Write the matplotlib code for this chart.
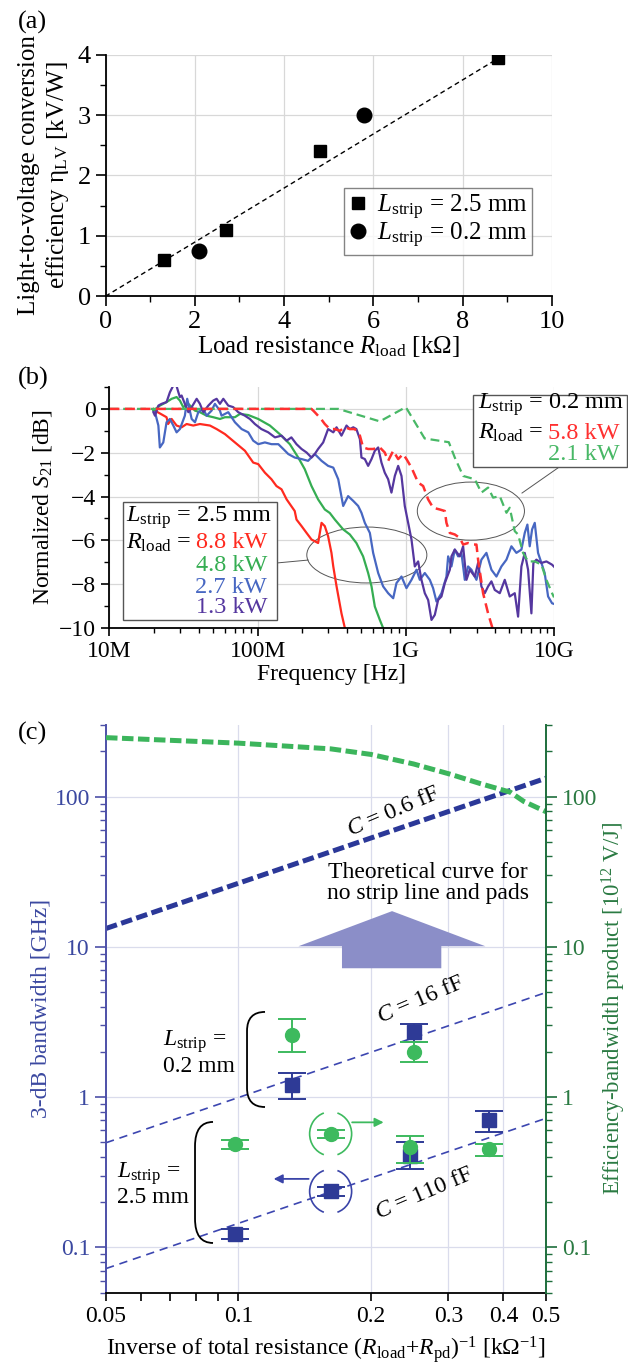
import numpy as np
import matplotlib
matplotlib.use("Agg")
import matplotlib.pyplot as plt
from matplotlib import ticker, transforms
from matplotlib.patches import Ellipse, Rectangle, Polygon, Arc, PathPatch
from matplotlib.path import Path

plt.rcParams['font.family'] = ['Liberation Serif', 'DejaVu Serif']
plt.rcParams['mathtext.fontset'] = 'custom'
plt.rcParams['mathtext.rm'] = 'Liberation Serif'
plt.rcParams['mathtext.it'] = 'Liberation Serif:italic'
plt.rcParams['mathtext.bf'] = 'Liberation Serif:bold'
plt.rcParams['axes.unicode_minus'] = True

# ---- (a) light-to-voltage efficiency vs load resistance ----
rload_25 = [1.3, 2.7, 4.8, 8.8]
eta_25 = [0.6, 1.1, 2.4, 3.95]
rload_02 = [2.1, 5.8]
eta_02 = [0.75, 3.0]
fit_r = [0, 8.8]
fit_eta = [0, 3.94]

# ---- (b) normalized S21, frequency in MHz ----
r88_f = [19.8, 20.3, 24.3, 24.9, 26.3, 28.4, 30.7, 33.2, 36.8, 40.8, 47.7, 52.9, 60.2, 70.3, 82.1, 93.4,
         101, 112, 124, 134, 145, 157, 178, 183, 198, 214, 231, 256, 270, 284, 299, 315, 324, 341, 368, 388, 400]
r88_db = [0, -0.08, -0.38, -0.69, -0.46, -0.76, -0.84, -0.69, -0.76, -0.69, -0.76, -0.92, -1.15, -1.53, -1.91,
          -2.45, -2.52, -2.91, -3.21, -3.52, -3.67, -4.13, -4.66, -5.05, -5.35, -5.66, -5.96, -6.12, -5.2, -5.35,
          -5.81, -6.57, -7.19, -8.10, -9.33, -10.0, -10.4]

g48_f = [19.8, 21.9, 24.3, 26.3, 28.4, 29.9, 31.5, 34.1, 37.8, 40.8, 45.3, 50.2, 55.7, 60.2, 70.3, 76.0, 86.5,
         101, 121, 141, 165, 188, 208, 231, 256, 284, 307, 332, 378, 419, 464, 515, 557, 587, 618, 668, 703, 720]
g48_db = [-0.08, 0.15, 0.31, 0.46, 0.54, 0.38, 0.08, 0.23, -0.08, -0.15, -0.31, -0.38, -0.46, -0.38, -0.38,
          -0.23, -0.28, -0.46, -0.76, -1.15, -1.61, -2.22, -2.75, -3.52, -4.13, -4.59, -4.75, -5.05, -5.5, -5.73,
          -6.12, -6.73, -7.49, -8.10, -9.02, -9.63, -10.0, -10.3]

b27_f = [20.3, 21.4, 21.9, 23.1, 24.3, 25.6, 27.0, 28.4, 29.9, 32.3, 33.5, 35.9, 37.8, 39.8, 43.0, 45.3, 48.9,
         51.5, 55.7, 57.1, 63.4, 70.3, 78.0, 86.5, 93.4, 101, 112, 124, 138, 149, 161, 178, 198, 219, 243, 270,
         299, 324, 350, 378, 408, 442, 477, 502, 529, 572, 602, 651, 703, 760, 822, 865, 935, 1010, 1092, 1180,
         1243, 1343, 1452, 1528, 1610, 1740, 1880, 1930, 2032, 2140, 2254, 2373, 2500, 2632, 2773, 2996, 3236,
         3499, 3781, 4087, 4416, 4775, 5159, 5572, 6025, 6346, 6612, 6855, 7112, 7413, 7802, 8222, 8650, 9120,
         9700, 10000]
b27_db = [-0.15, -0.76, -1.76, -1.53, -0.61, -0.46, -0.76, -1.07, -0.92, -0.31, 0.46, -0.46, -0.61, -0.15, 0,
          -0.31, -0.08, 0.23, -0.08, -0.31, -0.15, -0.61, -0.92, -1.07, -1.45, -1.61, -1.53, -1.61, -1.61, -1.83,
          -2.06, -2.22, -2.29, -2.37, -2.06, -2.37, -2.6, -2.68, -3.21, -4.43, -3.98, -4.2, -4.43, -4.74, -5.2,
          -5.66, -6.57, -7.49, -8.10, -8.41, -8.64, -7.95, -7.65, -8.18, -7.8, -7.34, -7.8, -7.49, -7.8, -8.18,
          -8.79, -8.41, -7.65, -6.73, -7.19, -6.42, -6.73, -6.57, -7.8, -7.19, -7.34, -7.8, -6.88, -6.57, -7.34,
          -7.65, -7.19, -6.88, -6.27, -6.57, -6.42, -5.66, -5.28, -6.27, -5.5, -5.2, -6.57, -7.03, -7.49, -8.56,
          -8.87, -8.9]

p13_f = [19.8, 20.3, 21.4, 22.5, 24.3, 25.6, 27.0, 28.1, 29.2, 29.9, 30.7, 32.3, 34.1, 35.9, 38.8, 40.8, 43.0,
         46.5, 50.2, 52.9, 55.7, 58.7, 63.4, 68.5, 74.0, 82.1, 88.7, 95.9, 106, 118, 131, 145, 157, 169, 183, 198,
         214, 231, 243, 256, 277, 299, 324, 341, 368, 398, 419, 442, 464, 490, 502, 529, 557, 587, 618, 651, 685,
         721, 760, 800, 843, 888, 935, 984, 1037, 1092, 1150, 1211, 1275, 1343, 1415, 1490, 1569, 1652, 1740,
         1833, 1981, 2032, 2140, 2313, 2436, 2566, 2702, 2920, 3074, 3236, 3410, 3590, 3781, 3981, 4305, 4652,
         5025, 5433, 5722, 6025, 6346, 6683, 7037, 7256, 7603, 8222, 8885, 9700, 10000]
p13_db = [-0.15, -0.31, 0.15, 0.23, 0.31, 0.76, 1.07, 1.15, 0.76, 0.54, 0.61, 0.23, -0.15, 0.08, 0.46, 0.23,
          -0.15, 0.15, 0.38, 0.46, 0.23, 0.46, 0.15, 0.08, -0.15, -0.31, -0.46, -0.69, -0.92, -1.07, -1.3, -1.22,
          -1.45, -1.3, -1.61, -1.83, -1.99, -2.22, -2.06, -1.83, -1.53, -0.92, -1.07, -0.84, -1.22, -0.76, -0.92,
          -0.84, -0.92, -1.38, -2.22, -2.29, -2.6, -2.29, -1.91, -1.76, -2.45, -2.91, -3.21, -3.82, -3.06, -2.6,
          -3.06, -4.43, -5.2, -5.96, -7.19, -6.96, -7.8, -8.41, -8.72, -9.63, -9.4, -8.72, -8.56, -7.95, -7.34,
          -6.73, -6.42, -6.73, -6.27, -7.8, -7.34, -7.65, -7.03, -8.10, -8.41, -8.10, -7.87, -8.26, -8.41, -7.8,
          -8.56, -8.41, -9.48, -7.19, -6.57, -7.34, -9.33, -7.03, -6.88, -7.03, -6.96, -7.11, -7.2]

r58_f = [10, 231, 243, 268, 284, 307, 332, 359, 388, 419, 453, 490, 515, 557, 602, 668, 721, 760, 822, 888, 959,
         1010, 1092, 1211, 1309, 1415, 1528, 1694, 1833, 1880, 1981, 2140, 2313, 2436, 2632, 2845, 2996, 3074,
         3322, 3590, 3881]
r58_db = [0, 0, -0.15, -0.46, -0.69, -0.92, -0.92, -1.0, -0.84, -0.92, -0.92, -1.22, -1.76, -1.83, -1.83, -1.76,
          -1.99, -2.37, -1.91, -2.29, -2.06, -2.29, -2.68, -3.36, -3.52, -4.13, -4.51, -4.59, -4.66, -5.2, -5.66,
          -5.73, -5.89, -6.19, -6.12, -6.19, -6.19, -6.88, -8.41, -9.33, -10.1]

g21_f = [10, 350, 668, 1000, 1340, 1950, 2140, 2436, 2920, 3236, 3590, 3881, 4305, 4775, 5025, 5433, 5722, 6180,
         6683, 7413, 8222, 8885, 9700, 10000]
g21_db = [0, 0, -0.57, 0.08, -1.35, -1.52, -2.22, -3.06, -3.21, -3.82, -3.59, -4.05, -3.98, -4.74, -4.51, -5.58,
          -5.73, -6.57, -6.96, -6.96, -7.11, -7.8, -8.41, -8.6]

# ---- (c) bandwidth and efficiency-bandwidth product ----
inv_r = [0.098, 0.132, 0.162, 0.245, 0.250, 0.372]
bw = [0.123, 1.2, 0.236, 0.408, 2.71, 0.70]
bw_lo = [0.114, 0.976, 0.221, 0.333, 2.33, 0.585]
bw_hi = [0.133, 1.445, 0.251, 0.50, 3.06, 0.815]
ebp = [0.489, 2.6, 0.57, 0.464, 2.0, 0.453]
ebp_lo = [0.453, 2.0, 0.533, 0.366, 1.71, 0.408]
ebp_hi = [0.52, 3.3, 0.607, 0.555, 2.33, 0.489]
cap_ff = [0.6, 16, 110]
theory_x = [0.05, 0.1, 0.162, 0.2, 0.25, 0.303, 0.355, 0.415, 0.445, 0.5]
theory_ebp = [247, 227, 208, 191, 165, 141, 122, 107, 93, 79.4]

fig = plt.figure(figsize=(6.28, 13.65), dpi=100)

# ================= (a) =================
ax = fig.add_axes([0.168, 0.783, 0.711, 0.177])
ax.plot(fit_r, fit_eta, color='k', lw=1.0, dashes=(3.5, 2.5))
ax.plot(rload_25, eta_25, 's', color='k', ms=9, label=r'$L_{\rm strip}$ = 2.5 mm')
ax.plot(rload_02, eta_02, 'o', color='k', ms=10.5, label=r'$L_{\rm strip}$ = 0.2 mm')
ax.set_xlim(0, 10)
ax.set_ylim(0, 4)
ax.xaxis.set_major_locator(ticker.MultipleLocator(2))
ax.xaxis.set_minor_locator(ticker.MultipleLocator(1))
ax.yaxis.set_major_locator(ticker.MultipleLocator(1))
ax.yaxis.set_minor_locator(ticker.MultipleLocator(0.5))
ax.grid(True, which='major', color='#d8d8d8', lw=0.9)
ax.set_axisbelow(True)
for s in ['top', 'right']:
    ax.spines[s].set_visible(False)
for s in ['left', 'bottom']:
    ax.spines[s].set_linewidth(1.3)
ax.tick_params(which='major', direction='out', length=7, width=1.2, labelsize=19)
ax.tick_params(which='minor', direction='out', length=4, width=1.0)
ax.set_xlabel(r'Load resistance $R_{\rm load}$ [k$\Omega$]', fontsize=18, labelpad=1)
ax.set_ylabel('Light-to-voltage conversion\n' + r'efficiency η$_{\rm LV}$ [kV/W]', fontsize=18, labelpad=5)
leg = ax.legend(loc='lower right', bbox_to_anchor=(0.956, 0.172), fontsize=18, frameon=True, fancybox=False,
                edgecolor='#666666', handlelength=0.7, handletextpad=0.4, borderpad=0.2, labelspacing=-0.05,
                borderaxespad=0)
leg.get_frame().set_linewidth(1.0)
fig.text(0.029, 1 - 22 / 1365, '(a)', fontsize=19, va='center')

# ================= (b) =================
ax = fig.add_axes([0.1742, 0.5399, 0.708, 0.1766])
MHz = 1e6
ax.plot(np.array(r88_f) * MHz, r88_db, color='#ff2a1f', lw=1.6)
ax.plot(np.array(g48_f) * MHz, g48_db, color='#35ad52', lw=1.6)
ax.plot(np.array(b27_f) * MHz, b27_db, color='#4767c2', lw=1.6)
ax.plot(np.array(p13_f) * MHz, p13_db, color='#55379f', lw=1.6)
ax.plot(np.array(g21_f) * MHz, g21_db, color='#48b866', lw=1.6, dashes=(4, 2.2))
ax.plot(np.array(r58_f) * MHz, r58_db, color='#ff3030', lw=1.8, dashes=(4, 2.2))
ax.set_xscale('log')
ax.set_xlim(1e7, 1e10)
ax.set_ylim(-10, 1)
ax.xaxis.set_major_locator(ticker.FixedLocator([1e7, 1e8, 1e9, 1e10]))
ax.xaxis.set_major_formatter(ticker.FixedFormatter(['10M', '100M', '1G', '10G']))
ax.xaxis.set_minor_locator(ticker.LogLocator(base=10, subs=np.arange(2, 10), numticks=20))
ax.xaxis.set_minor_formatter(ticker.NullFormatter())
ax.yaxis.set_major_locator(ticker.MultipleLocator(2))
ax.yaxis.set_minor_locator(ticker.MultipleLocator(1))
ax.grid(True, which='major', color='#d8d8d8', lw=0.9)
ax.set_axisbelow(True)
for s in ['top', 'right']:
    ax.spines[s].set_visible(False)
for s in ['left', 'bottom']:
    ax.spines[s].set_linewidth(1.3)
ax.tick_params(which='major', direction='out', length=6, width=1.2, labelsize=17)
ax.tick_params(which='minor', direction='out', length=3.5, width=1.0)
ax.set_xlabel('Frequency [Hz]', fontsize=17, labelpad=1)
ax.set_ylabel(r'Normalized $S_{21}$ [dB]', fontsize=17, labelpad=4)

# group outlines and leaders
ax.add_patch(Ellipse((0.579, 0.303), 0.27, 0.232, transform=ax.transAxes, fill=False, ec='#555555', lw=0.7))
ax.add_patch(Ellipse((0.813, 0.485), 0.241, 0.241, transform=ax.transAxes, fill=False, ec='#555555', lw=0.7))
ax.plot([0.377, 0.447], [0.27, 0.282], transform=ax.transAxes, color='#555555', lw=0.7)
ax.plot([0.928, 1.018], [0.560, 0.676], transform=ax.transAxes, color='#555555', lw=0.7, clip_on=False)

# legend boxes
bfs = 17.5
ax.add_patch(Rectangle((0.0306, 0.0332), 0.3464, 0.4898, transform=ax.transAxes, fc='white',
                       ec='#555555', lw=1.0, zorder=5))
ax.text(0.037, 0.46, r'$L_{\rm strip}$ = 2.5 mm', transform=ax.transAxes, fontsize=bfs, va='center', zorder=6)
ax.text(0.037, 0.353, r'$R_{\rm load}$ =', transform=ax.transAxes, fontsize=bfs, va='center', zorder=6)
for txt, yy, c in [('8.8 kW', 0.353, '#ff2a1f'), ('4.8 kW', 0.261, '#35ad52'),
                   ('2.7 kW', 0.170, '#4767c2'), ('1.3 kW', 0.087, '#55379f')]:
    ax.text(0.355, yy, txt, transform=ax.transAxes, fontsize=bfs, va='center', ha='right', color=c, zorder=6)

ax.add_patch(Rectangle((0.8175, 0.668), 0.3465, 0.299, transform=ax.transAxes, fc='white',
                       ec='#555555', lw=1.0, zorder=5, clip_on=False))
ax.text(0.829, 0.925, r'$L_{\rm strip}$ = 0.2 mm', transform=ax.transAxes, fontsize=bfs, va='center', zorder=6)
ax.text(0.829, 0.809, r'$R_{\rm load}$ =', transform=ax.transAxes, fontsize=bfs, va='center', zorder=6)
ax.text(1.148, 0.809, '5.8 kW', transform=ax.transAxes, fontsize=bfs, va='center', ha='right',
        color='#ff3030', zorder=6)
ax.text(1.148, 0.718, '2.1 kW', transform=ax.transAxes, fontsize=bfs, va='center', ha='right',
        color='#48b866', zorder=6)
fig.text(0.029, 1 - 378 / 1365, '(b)', fontsize=19, va='center')

# ================= (c) =================
blue_ax = '#4d50a8'
green_ax = '#1e6e3c'
navy = '#2b3898'
blue_m = '#2e3a96'
green_m = '#3dba5e'

ax = fig.add_axes([0.1688, 0.0530, 0.7006, 0.4159])
ax2 = ax.twinx()
for a in (ax, ax2):
    a.set_xscale('log')
    a.set_yscale('log')
    a.set_xlim(0.05, 0.5)
    a.set_ylim(0.05, 300)

for gx in [0.1, 0.2, 0.3, 0.4]:
    ax.axvline(gx, color='#dadcec', lw=0.9, zorder=0)
for gy in [0.1, 1, 10, 100]:
    ax.axhline(gy, color='#dadcec', lw=0.9, zorder=0)

# theoretical RC limits
xe = np.array([0.05, 0.5])
for c in cap_ff:
    bw_line = xe * 1e-3 / (2 * np.pi * c * 1e-15) / 1e9
    if c < 1:
        ax.plot(xe, bw_line, color=navy, lw=3.6, dashes=(2.3, 0.9))
    else:
        ax.plot(xe, bw_line, color='#3c46b0', lw=1.2, dashes=(5, 3.5))

# big arrow
ax.add_patch(Polygon([(0.1369, 10.1), (0.2234, 17.3), (0.3641, 10.1), (0.2891, 10.1), (0.2891, 7.21),
                      (0.1719, 7.21), (0.1719, 10.1)], closed=True, fc='#8b8ec8', ec='none', zorder=1))
ax.text(0.27, 26.6, 'Theoretical curve for\nno strip line and pads', ha='center', va='center',
        fontsize=17, linespacing=1.0)
ax.text(0.225, 79, r'$C$ = 0.6 fF', ha='center', va='center', rotation=23, fontsize=17)
ax.text(0.259, 4.4, r'$C$ = 16 fF', ha='center', va='center', rotation=23, fontsize=17)
ax.text(0.2646, 0.228, r'$C$ = 110 fF', ha='center', va='center', rotation=23, fontsize=17)

ax.errorbar(inv_r, bw, yerr=[np.array(bw) - np.array(bw_lo), np.array(bw_hi) - np.array(bw)],
            fmt='s', color=blue_m, ms=10, capsize=10, capthick=1.4, elinewidth=1.4, zorder=4)

ax2.plot(theory_x, theory_ebp, color='#3cb55c', lw=3.6, dashes=(2.3, 0.9))
ax2.errorbar(inv_r, ebp, yerr=[np.array(ebp) - np.array(ebp_lo), np.array(ebp_hi) - np.array(ebp)],
             fmt='o', color=green_m, ms=10, capsize=10, capthick=1.4, elinewidth=1.4, zorder=4)


def around(a, x, y):
    return fig.dpi_scale_trans + transforms.ScaledTranslation(x, y, a.transData)


# circles marking which axis each point uses
for (x, y, col, tail, head) in [(0.162, 0.57, green_m, (0.215, 0.115), (0.53, 0.115)),
                                (0.162, 0.236, '#3a44a8', (-0.22, 0.125), (-0.57, 0.125))]:
    tr = around(ax2, x, y)
    ax2.add_patch(Arc((0, 0), 0.42, 0.44, theta1=-72, theta2=72, transform=tr, color=col, lw=1.2))
    ax2.add_patch(Arc((0, 0), 0.42, 0.44, theta1=108, theta2=252, transform=tr, color=col, lw=1.2))
    ax2.annotate('', xy=head, xycoords=tr, xytext=tail, textcoords=tr,
                 arrowprops=dict(arrowstyle='-|>', color=col, lw=1.3, mutation_scale=13, shrinkA=0, shrinkB=0))


def brace(a, x0, x1, y0, y1):
    r = 0.2 * (y1 - y0)
    verts = [(x1, y1), (x0, y1), (x0, y1 - r), (x0, y0 + r), (x0, y0), (x1, y0)]
    codes = [Path.MOVETO, Path.CURVE3, Path.CURVE3, Path.LINETO, Path.CURVE3, Path.CURVE3]
    a.add_patch(PathPatch(Path(verts, codes), fill=False, ec='k', lw=1.3, transform=a.transAxes))


brace(ax2, 0.3205, 0.3614, 0.327, 0.4945)
brace(ax2, 0.2023, 0.2432, 0.0875, 0.3007)
ax2.text(0.0674, 1.97, '$L_{\\rm strip}$ =\n0.2 mm', ha='left', va='center', fontsize=17, linespacing=1.05)
ax2.text(0.053, 0.264, '$L_{\\rm strip}$ =\n2.5 mm', ha='left', va='center', fontsize=17, linespacing=1.05)

# axis styling
xt = [0.05, 0.06, 0.07, 0.08, 0.09, 0.1, 0.2, 0.3, 0.4, 0.5]
xl = ['0.05', '', '', '', '', '0.1', '0.2', '0.3', '0.4', '0.5']
ax.xaxis.set_major_locator(ticker.FixedLocator(xt))
ax.xaxis.set_major_formatter(ticker.FixedFormatter(xl))
ax.xaxis.set_minor_locator(ticker.NullLocator())
for a in (ax, ax2):
    a.yaxis.set_major_locator(ticker.LogLocator(base=10, numticks=10))
    a.yaxis.set_major_formatter(ticker.FuncFormatter(lambda v, _: '%g' % v))
    a.yaxis.set_minor_locator(ticker.LogLocator(base=10, subs=np.arange(2, 10), numticks=20))
    a.yaxis.set_minor_formatter(ticker.NullFormatter())
    a.spines['top'].set_visible(False)
ax.spines['right'].set_visible(False)
ax2.spines['left'].set_visible(False)
ax2.spines['bottom'].set_visible(False)
ax.spines['left'].set_color(blue_ax)
ax.spines['left'].set_linewidth(1.4)
ax.spines['bottom'].set_linewidth(1.3)
ax2.spines['right'].set_color(green_ax)
ax2.spines['right'].set_linewidth(1.4)
ax.tick_params(axis='x', which='major', direction='out', length=6, width=1.2, labelsize=17)
ax.tick_params(axis='y', which='major', direction='out', length=8, width=1.2, color=blue_ax,
               labelcolor='#3b48a0', labelsize=17)
ax.tick_params(axis='y', which='minor', direction='out', length=4.5, width=1.0, color=blue_ax)
ax2.tick_params(axis='y', which='major', direction='out', length=8, width=1.2, color=green_ax,
                labelcolor='#2a7a42', labelsize=17)
ax2.tick_params(axis='y', which='minor', direction='out', length=4.5, width=1.0, color=green_ax)
ax.set_ylabel('3-dB bandwidth [GHz]', color='#3b48a0', fontsize=17, labelpad=2)
ax2.set_ylabel('Efficiency-bandwidth product [10$^{12}$ V/J]', color='#2a7a42', fontsize=16.5, labelpad=2)
ax.set_xlabel(r'Inverse of total resistance ($R_{\rm load}$+$R_{\rm pd}$)$^{-1}$ [k$\Omega^{-1}$]',
              fontsize=17, labelpad=5)
fig.text(0.029, 1 - 733 / 1365, '(c)', fontsize=19, va='center')

fig.savefig('out.png', dpi=100)
